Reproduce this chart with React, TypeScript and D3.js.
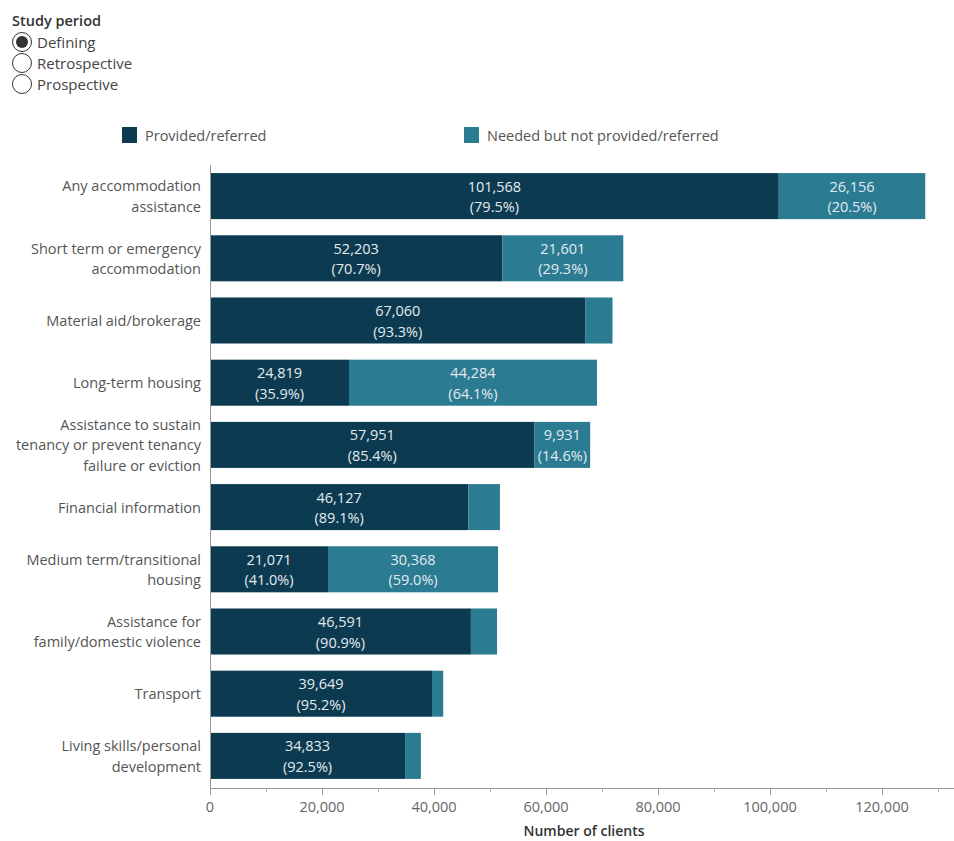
import React from "react";
import * as d3 from "d3";

const categories = [
  "Any accommodation assistance",
  "Short term or emergency accommodation",
  "Material aid/brokerage",
  "Long-term housing",
  "Assistance to sustain tenancy or prevent tenancy failure or eviction",
  "Financial information",
  "Medium term/transitional housing",
  "Assistance for family/domestic violence",
  "Transport",
  "Living skills/personal development",
];
const categoryLines = [
  ["Any accommodation", "assistance"],
  ["Short term or emergency", "accommodation"],
  ["Material aid/brokerage"],
  ["Long-term housing"],
  ["Assistance to sustain", "tenancy or prevent tenancy", "failure or eviction"],
  ["Financial information"],
  ["Medium term/transitional", "housing"],
  ["Assistance for", "family/domestic violence"],
  ["Transport"],
  ["Living skills/personal", "development"],
];
const provided = [101568, 52203, 67060, 24819, 57951, 46127, 21071, 46591, 39649, 34833];
const needed = [26156, 21601, 4815, 44284, 9931, 5643, 30368, 4664, 1999, 2824];
const seriesNames = ["Provided/referred", "Needed but not provided/referred"];
const xTicks = [0, 20000, 40000, 60000, 80000, 100000, 120000];
const minorTicks = [10000, 30000, 50000, 70000, 90000, 110000, 130000];
const studyOptions = ["Defining", "Retrospective", "Prospective"];

const DARK = "#0c3a50";
const TEAL = "#2b7b93";
const FONT = "'Open Sans', sans-serif";
const FS = 14.5;

export default function App() {
  const x = d3.scaleLinear().domain([0, 120000]).range([210, 882]);
  const y = d3.scaleBand<string>().domain(categories).range([165, 787]).paddingInner(0.26).paddingOuter(0.13);
  const fmt = d3.format(",");
  const bw = y.bandwidth();

  return (
    <svg width={954} height={841} style={{ position: "absolute", left: 0, top: 0, background: "#fff" }} fontFamily={FONT}>
      {/* Study period selector */}
      <text x={12} y={26} fontSize={14.5} fill="#333" fontWeight={600}>Study period</text>
      {studyOptions.map((o, i) => (
        <g key={o}>
          <circle cx={22} cy={42 + i * 21} r={9.5} fill="#fff" stroke="#333" strokeWidth={1} />
          {i === 0 && <circle cx={22} cy={42} r={6} fill="#333" />}
          <text x={37} y={47.5 + i * 21} fontSize={15} fill="#444">{o}</text>
        </g>
      ))}

      {/* Legend */}
      <rect x={122} y={127} width={15} height={16} fill={DARK} />
      <text x={145} y={141} fontSize={FS} fill="#555">{seriesNames[0]}</text>
      <rect x={464} y={127} width={15} height={16} fill={TEAL} />
      <text x={487} y={141} fontSize={FS} fill="#555">{seriesNames[1]}</text>

      {/* Bars */}
      {categories.map((c, i) => {
        const y0 = y(c)!;
        const p = provided[i];
        const n = needed[i];
        const tot = p + n;
        const xp0 = x(0), xp1 = x(p), xn1 = x(tot);
        const pctP = ((p / tot) * 100).toFixed(1);
        const pctN = ((n / tot) * 100).toFixed(1);
        const cy = y0 + bw / 2;
        return (
          <g key={c}>
            <rect x={xp0} y={y0} width={xp1 - xp0} height={bw} fill={DARK} />
            <rect x={xp1} y={y0} width={xn1 - xp1} height={bw} fill={TEAL} />
            {xp1 - xp0 > 45 && (
              <text x={(xp0 + xp1) / 2} y={cy} fontSize={FS} fill="#e4eaee" textAnchor="middle">
                <tspan x={(xp0 + xp1) / 2} dy={-4.5}>{fmt(p)}</tspan>
                <tspan x={(xp0 + xp1) / 2} dy={20.5}>({pctP}%)</tspan>
              </text>
            )}
            {xn1 - xp1 > 45 && (
              <text x={(xp1 + xn1) / 2} y={cy} fontSize={FS} fill="#e4eaee" textAnchor="middle">
                <tspan x={(xp1 + xn1) / 2} dy={-4.5}>{fmt(n)}</tspan>
                <tspan x={(xp1 + xn1) / 2} dy={20.5}>({pctN}%)</tspan>
              </text>
            )}
            <text fontSize={FS} fill="#555" textAnchor="end">
              {categoryLines[i].map((l, j) => (
                <tspan key={j} x={201} y={cy + 5.5 + (j - (categoryLines[i].length - 1) / 2) * 20.5}>{l}</tspan>
              ))}
            </text>
          </g>
        );
      })}

      {/* Axes */}
      <line x1={210.5} x2={210.5} y1={165} y2={788} stroke="#999" strokeWidth={1} />
      <line x1={210} x2={954} y1={788.5} y2={788.5} stroke="#999" strokeWidth={1} />
      {xTicks.map((t) => (
        <g key={t}>
          <line x1={x(t) + 0.5} x2={x(t) + 0.5} y1={789} y2={795} stroke="#999" />
          <text x={x(t)} y={812} fontSize={FS} fill="#666" textAnchor="middle">{fmt(t)}</text>
        </g>
      ))}
      {minorTicks.map((t) => (
        <line key={t} x1={x(t) + 0.5} x2={x(t) + 0.5} y1={789} y2={792} stroke="#bbb" />
      ))}
      <text x={584} y={836} fontSize={14} fill="#333" textAnchor="middle" fontWeight={600}>Number of clients</text>
    </svg>
  );
}
